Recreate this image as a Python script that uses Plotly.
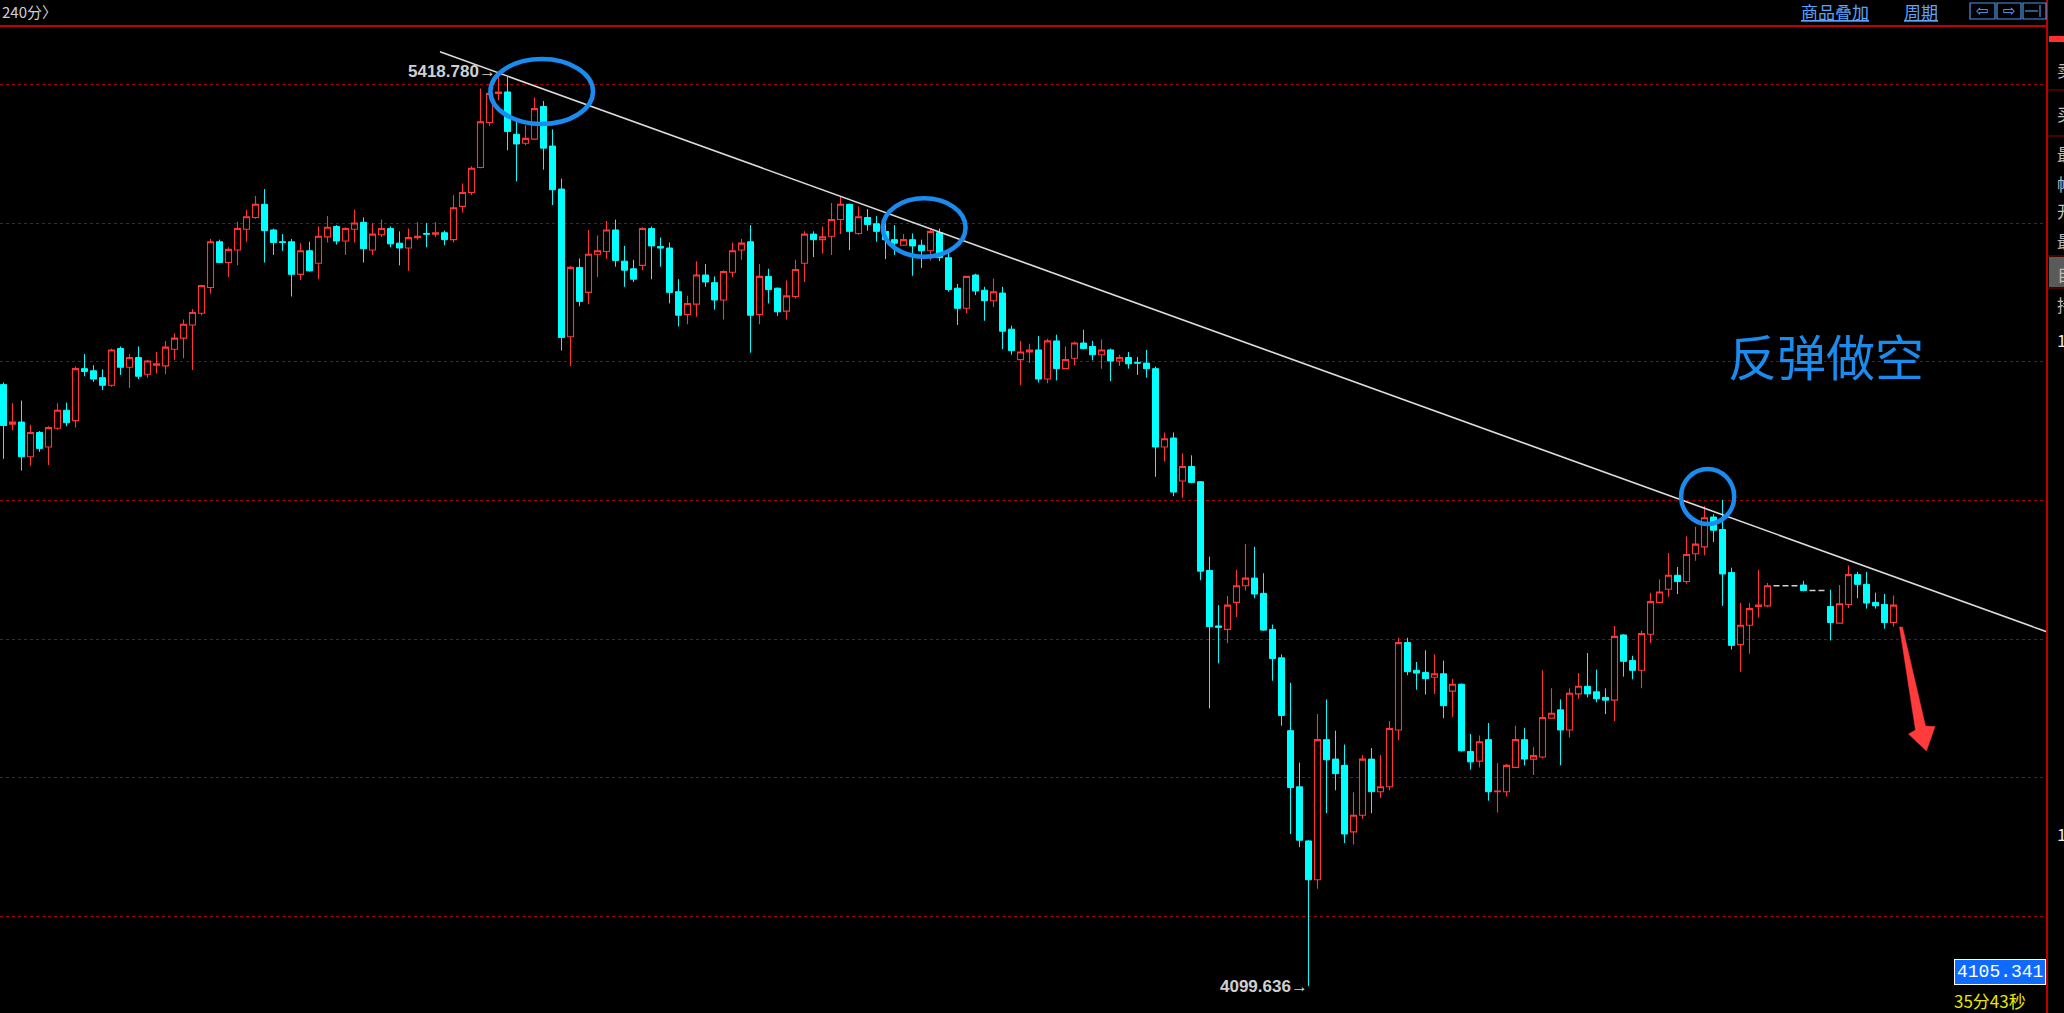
import plotly.graph_objects as go

W, H = 2064, 1013

# ---------------- data (240-minute candles) ----------------
opens = [4967, 4910, 4913, 4863, 4898, 4877, 4904, 4930, 4915, 4990,
         4987, 4977, 4966, 5019, 4992, 5006, 4982, 4995, 4994, 5018,
         5034, 5053, 5070, 5107, 5173, 5143, 5161, 5191, 5208, 5227,
         5190, 5173, 5173, 5126, 5160, 5142, 5180, 5195, 5174, 5191,
         5201, 5161, 5183, 5192, 5171, 5164, 5179, 5185, 5184, 5186,
         5176, 5224, 5244, 5280, 5345, 5387, 5389, 5328, 5315, 5321,
         5368, 5311, 5249, 5036, 5136, 5100, 5155, 5159, 5190, 5145,
         5134, 5139, 5192, 5166, 5164, 5101, 5068, 5083, 5125, 5114,
         5089, 5129, 5161, 5173, 5068, 5123, 5106, 5073, 5094, 5142,
         5184, 5176, 5181, 5205, 5227, 5185, 5208, 5199, 5188, 5176,
         5168, 5176, 5168, 5160, 5186, 5150, 5106, 5077, 5125, 5103,
         5088, 5099, 5047, 5003, 5014, 5017, 4975, 5030, 4990, 5005,
         5027, 5022, 5010, 5017, 5001, 5006, 4999, 4998, 4990, 4877,
         4890, 4828, 4849, 4827, 4699, 4619, 4614, 4653, 4677, 4688,
         4666, 4614, 4573, 4468, 4387, 4309, 4253, 4455, 4427, 4418,
         4322, 4346, 4427, 4380, 4387, 4469, 4595, 4555, 4552, 4545,
         4550, 4525, 4535, 4438, 4424, 4455, 4380, 4380, 4415, 4455,
         4427, 4430, 4486, 4498, 4469, 4521, 4532, 4524, 4516, 4512,
         4606, 4569, 4555, 4607, 4653, 4672, 4692, 4683, 4723, 4733,
         4776, 4758, 4696, 4592, 4620, 4647, 4648, 4677, 4677, 4677,
         4678, 4670, 4670, 4647, 4623, 4650, 4693, 4679, 4653, 4650,
         4624]
highs = [4970, 4940, 4944, 4909, 4900, 4907, 4940, 4941, 4993, 5011,
         4995, 4989, 5019, 5022, 5011, 5022, 5003, 5014, 5030, 5041,
         5061, 5076, 5111, 5177, 5176, 5165, 5202, 5219, 5239, 5249,
         5192, 5184, 5177, 5171, 5173, 5195, 5210, 5197, 5194, 5219,
         5208, 5200, 5205, 5195, 5188, 5192, 5201, 5200, 5201, 5189,
         5240, 5257, 5282, 5394, 5394, 5418.78, 5411, 5346, 5341, 5381,
         5376, 5335, 5264, 5138, 5149, 5190, 5182, 5203, 5205, 5167,
         5147, 5194, 5195, 5179, 5172, 5119, 5095, 5145, 5141, 5123,
         5132, 5172, 5177, 5197, 5141, 5134, 5107, 5117, 5147, 5188,
         5188, 5195, 5229, 5239, 5228, 5224, 5220, 5210, 5200, 5197,
         5184, 5185, 5176, 5190, 5192, 5159, 5112, 5124, 5127, 5108,
         5120, 5108, 5052, 5030, 5026, 5037, 5033, 5039, 5022, 5029,
         5046, 5030, 5032, 5019, 5010, 5014, 5007, 5017, 4993, 4898,
         4898, 4868, 4865, 4828, 4719, 4649, 4662, 4700, 4737, 4733,
         4695, 4621, 4578, 4537, 4422, 4310, 4492, 4513, 4468, 4448,
         4379, 4433, 4443, 4433, 4482, 4602, 4602, 4567, 4584, 4578,
         4569, 4543, 4536, 4463, 4461, 4479, 4421, 4420, 4475, 4472,
         4444, 4555, 4529, 4513, 4529, 4551, 4580, 4556, 4529, 4619,
         4607, 4576, 4612, 4667, 4686, 4724, 4704, 4748, 4762, 4792,
         4780, 4801, 4703, 4652, 4652, 4700, 4681, 4677, 4677, 4677,
         4684, 4670, 4670, 4671, 4678, 4706, 4697, 4697, 4667, 4665,
         4663]
lows = [4860, 4901, 4843, 4850, 4870, 4851, 4902, 4907, 4905, 4979,
        4971, 4959, 4964, 4981, 4962, 4975, 4977, 4983, 4982, 5003,
        5005, 4988, 5067, 5098, 5143, 5122, 5139, 5173, 5206, 5143,
        5154, 5160, 5094, 5118, 5130, 5119, 5172, 5169, 5154, 5172,
        5143, 5154, 5180, 5165, 5139, 5131, 5176, 5165, 5180, 5168,
        5172, 5215, 5240, 5279, 5340, 5377, 5305, 5260, 5312, 5320,
        5277, 5226, 5016, 4994, 5080, 5083, 5122, 5148, 5137, 5108,
        5115, 5132, 5119, 5137, 5084, 5051, 5054, 5065, 5108, 5075,
        5061, 5122, 5147, 5013, 5054, 5084, 5066, 5061, 5091, 5115,
        5151, 5156, 5154, 5184, 5161, 5183, 5189, 5173, 5148, 5154,
        5167, 5124, 5135, 5146, 5145, 5101, 5053, 5070, 5096, 5059,
        5079, 5018, 5010, 4966, 4998, 4970, 4969, 4973, 4989, 4995,
        5018, 5002, 4990, 4972, 4994, 4990, 4981, 4977, 4834, 4856,
        4806, 4804, 4825, 4685, 4500, 4565, 4594, 4632, 4670, 4659,
        4612, 4540, 4475, 4319, 4300, 4099.636, 4240, 4349, 4382, 4306,
        4304, 4341, 4349, 4371, 4382, 4454, 4548, 4527, 4520, 4521,
        4486, 4488, 4438, 4412, 4415, 4367, 4350, 4373, 4414, 4418,
        4404, 4428, 4485, 4418, 4458, 4514, 4516, 4509, 4492, 4482,
        4546, 4542, 4529, 4594, 4652, 4661, 4665, 4680, 4713, 4721,
        4740, 4648, 4585, 4553, 4579, 4631, 4646, 4677, 4677, 4677,
        4669, 4670, 4670, 4598, 4622, 4645, 4659, 4644, 4644, 4615,
        4618]
closes = [4908, 4913, 4863, 4898, 4875, 4905, 4930, 4912, 4990, 4986,
          4975, 4966, 5017, 4992, 5006, 4979, 5001, 4997, 5021, 5034,
          5054, 5071, 5110, 5173, 5143, 5162, 5192, 5209, 5227, 5189,
          5172, 5172, 5126, 5160, 5131, 5181, 5194, 5174, 5192, 5200,
          5163, 5184, 5192, 5170, 5164, 5179, 5181, 5184, 5186, 5176,
          5222, 5244, 5279, 5346, 5387, 5389, 5332, 5314, 5322, 5365,
          5308, 5248, 5035, 5136, 5087, 5155, 5160, 5190, 5146, 5132,
          5119, 5192, 5167, 5164, 5100, 5067, 5084, 5125, 5115, 5089,
          5130, 5160, 5171, 5067, 5123, 5104, 5072, 5095, 5133, 5184,
          5176, 5180, 5205, 5227, 5188, 5209, 5198, 5188, 5176, 5171,
          5176, 5167, 5160, 5188, 5150, 5104, 5077, 5123, 5102, 5088,
          5101, 5044, 5016, 5014, 5017, 4975, 5030, 4990, 5003, 5027,
          5019, 5010, 5017, 5001, 5006, 4997, 4998, 4990, 4877, 4889,
          4812, 4849, 4826, 4698, 4618, 4617, 4649, 4677, 4688, 4665,
          4613, 4572, 4490, 4386, 4310, 4253, 4455, 4426, 4406, 4319,
          4346, 4427, 4380, 4387, 4471, 4595, 4553, 4551, 4543, 4550,
          4504, 4535, 4439, 4423, 4452, 4380, 4381, 4418, 4455, 4427,
          4432, 4487, 4493, 4469, 4522, 4532, 4521, 4514, 4512, 4604,
          4568, 4555, 4608, 4654, 4668, 4692, 4683, 4722, 4737, 4775,
          4757, 4694, 4591, 4620, 4644, 4649, 4677, 4677, 4677, 4677,
          4670, 4670, 4670, 4624, 4651, 4693, 4679, 4652, 4648, 4624,
          4649]

grid_levels = [4200, 4400, 4600, 4800, 5000, 5200, 5400]

peak_index, peak_price, peak_text = 55, 5418.78, "5418.780"
trough_index, trough_price, trough_text = 145, 4099.636, "4099.636"

# hand-drawn downward trend line (bar index, price)
trend_x = [48.5, 227.5]
trend_y = [5447.0, 4608.3]

# hand-drawn blue ellipses (bar index / price extents)
ell_x0 = [54.1, 97.7, 186.4]
ell_x1 = [65.5, 106.9, 192.3]
ell_y0 = [5342.8, 5151.4, 4766.0]
ell_y1 = [5436.5, 5235.7, 4845.3]

note_text = "反弹做空"
price_box_text = "4105.341"
timer_text = "35分43秒"
period_text = "240分〉"
top_links = ["商品叠加", "周期"]
side_labels = ["卖出", "买入", "最新", "幅度", "开盘", "最低", "自选", "持仓", "1", "1"]

# ---------------- styling ----------------
RED = "#ff3535"
CYAN = "#00ffff"
BLUE = "#1a8cf0"
GRID = "#a00000"
BORDER = "#c00000"

PLOT_RIGHT = 2047
PLOT_TOP = 27
BAR0 = 3.5      # pixel centre of first bar
BAR_STEP = 9.0  # pixels per bar


def px(x):
    return x / W


def py(y):
    return 1 - y / H


x_idx = list(range(len(opens)))
flat = [o == h == l == c for o, h, l, c in zip(opens, highs, lows, closes)]

main_x = [i for i in x_idx if not flat[i]]
flat_x = [i for i in x_idx if flat[i]]

fig = go.Figure()

fig.add_trace(go.Candlestick(
    x=main_x,
    open=[opens[i] for i in main_x],
    high=[highs[i] for i in main_x],
    low=[lows[i] for i in main_x],
    close=[closes[i] for i in main_x],
    increasing=dict(line=dict(color=RED, width=1.1), fillcolor="#000000"),
    decreasing=dict(line=dict(color=CYAN, width=1), fillcolor=CYAN),
    whiskerwidth=0,
    hoverinfo="skip",
    showlegend=False,
))

fig.add_trace(go.Candlestick(
    x=flat_x,
    open=[opens[i] for i in flat_x],
    high=[highs[i] for i in flat_x],
    low=[lows[i] for i in flat_x],
    close=[closes[i] for i in flat_x],
    increasing=dict(line=dict(color="#d0d0d0", width=1.5), fillcolor="#d0d0d0"),
    decreasing=dict(line=dict(color="#d0d0d0", width=1.5), fillcolor="#d0d0d0"),
    whiskerwidth=0,
    hoverinfo="skip",
    showlegend=False,
))

fig.add_trace(go.Scatter(
    x=trend_x, y=trend_y, mode="lines",
    line=dict(color="#dcdcdc", width=1.6),
    hoverinfo="skip", showlegend=False,
))

x_lo = (0 - BAR0) / BAR_STEP
x_hi = (PLOT_RIGHT - BAR0) / BAR_STEP
# y mapping: price = 5521.6 - 1.442*pixel_y
y_lo = 5521.6 - 1.442 * H
y_hi = 5521.6 - 1.442 * PLOT_TOP

shapes = []
for a, b, c, d in zip(ell_x0, ell_x1, ell_y0, ell_y1):
    shapes.append(dict(type="circle", xref="x", yref="y", x0=a, x1=b, y0=c, y1=d,
                       line=dict(color=BLUE, width=4.5), layer="above"))

# red tapered arrow (pixel outline converted to paper units)
arrow_pts = [(1899.5, 627.0), (1902.5, 627.0), (1925.5, 726.0), (1935.0, 726.5),
             (1926.5, 751.0), (1908.5, 734.0), (1915.5, 730.0)]
arrow_path = "M " + " L ".join(f"{px(a):.5f},{py(b):.5f}" for a, b in arrow_pts) + " Z"
shapes.append(dict(type="path", xref="paper", yref="paper", path=arrow_path,
                   fillcolor="#ff3b3b", line=dict(color="#ff3b3b", width=0.5)))

# frame lines
shapes.append(dict(type="line", xref="paper", yref="paper", x0=0, x1=px(PLOT_RIGHT),
                   y0=py(26), y1=py(26), line=dict(color=BORDER, width=2)))
shapes.append(dict(type="line", xref="paper", yref="paper", x0=px(PLOT_RIGHT), x1=px(PLOT_RIGHT),
                   y0=0, y1=1, line=dict(color=BORDER, width=2)))
# right panel decorations
shapes.append(dict(type="rect", xref="paper", yref="paper", x0=px(2049), x1=1,
                   y0=py(42), y1=py(36), fillcolor="#ff3030", line=dict(width=0)))
for yy in [90, 136, 256, 288]:
    shapes.append(dict(type="line", xref="paper", yref="paper", x0=px(2048), x1=1,
                       y0=py(yy), y1=py(yy), line=dict(color="#8a0000", width=1)))
shapes.append(dict(type="rect", xref="paper", yref="paper", x0=px(2049), x1=1,
                   y0=py(287), y1=py(257), fillcolor="#5a5a5a", line=dict(width=0), layer="below"))
# top-right icon buttons
for x0, x1 in [(1970, 1995), (1997, 2021), (2023, 2046)]:
    shapes.append(dict(type="rect", xref="paper", yref="paper", x0=px(x0), x1=px(x1),
                       y0=py(19), y1=py(3), line=dict(color="#4d94e6", width=1.2)))
shapes.append(dict(type="line", xref="paper", yref="paper", x0=px(2025), x1=px(2038),
                   y0=py(11), y1=py(11), line=dict(color="#4d94e6", width=1.2)))
shapes.append(dict(type="line", xref="paper", yref="paper", x0=px(2040), x1=px(2040),
                   y0=py(5), y1=py(17), line=dict(color="#4d94e6", width=1.2)))

annotations = []
annotations.append(dict(x=peak_index, y=peak_price, xref="x", yref="y",
                        text="<b>" + peak_text + "</b>→", showarrow=False,
                        xanchor="right", yanchor="middle", xshift=-1,
                        font=dict(family="Liberation Sans", size=17, color="#cfcfcf")))
annotations.append(dict(x=trough_index, y=trough_price, xref="x", yref="y",
                        text="<b>" + trough_text + "</b>→", showarrow=False,
                        xanchor="right", yanchor="middle", xshift=1,
                        font=dict(family="Liberation Sans", size=17, color="#cfcfcf")))
annotations.append(dict(x=px(1826), y=py(354), xref="paper", yref="paper",
                        text=note_text, showarrow=False, xanchor="center", yanchor="middle",
                        font=dict(family="Noto Sans CJK SC", size=49, color=BLUE)))
# price box and timer
annotations.append(dict(x=px(2046), y=py(972), xref="paper", yref="paper",
                        text=price_box_text, showarrow=False, xanchor="right", yanchor="middle",
                        bgcolor="#0f6bff", bordercolor="#ffffff", borderwidth=1, borderpad=2,
                        font=dict(family="Liberation Mono", size=18, color="#ffffff")))
annotations.append(dict(x=px(1952), y=py(1000), xref="paper", yref="paper",
                        text=timer_text, showarrow=False, xanchor="left", yanchor="middle",
                        font=dict(family="Noto Sans CJK SC", size=17, color="#e8e800")))
# top bar
annotations.append(dict(x=0, y=py(12), xref="paper", yref="paper",
                        text=period_text, showarrow=False, xanchor="left", yanchor="middle",
                        font=dict(family="Noto Sans CJK SC", size=15, color="#d0d0d0")))
annotations.append(dict(x=px(1799), y=py(11), xref="paper", yref="paper",
                        text="<u>" + top_links[0] + "</u>", showarrow=False, xanchor="left",
                        yanchor="middle",
                        font=dict(family="Noto Sans CJK SC", size=17, color="#5aa6ff")))
annotations.append(dict(x=px(1902), y=py(11), xref="paper", yref="paper",
                        text="<u>" + top_links[1] + "</u>", showarrow=False, xanchor="left",
                        yanchor="middle",
                        font=dict(family="Noto Sans CJK SC", size=17, color="#5aa6ff")))
for xc, sym in [(1982.5, "⇦"), (2009, "⇨")]:
    annotations.append(dict(x=px(xc), y=py(11), xref="paper", yref="paper",
                            text=sym, showarrow=False, xanchor="center", yanchor="middle",
                            font=dict(family="DejaVu Sans", size=15, color="#5aa6ff")))
# right side panel (mostly clipped by the window edge, as in the reference)
for lab, yy in zip(side_labels, [70, 113, 153, 183, 211, 240, 273, 304, 339, 833]):
    annotations.append(dict(x=px(2055), y=py(yy), xref="paper", yref="paper",
                            text=lab, showarrow=False, xanchor="left", yanchor="middle",
                            font=dict(family="Noto Sans CJK SC", size=17,
                                      color="#e8e8e8" if lab == "1" else "#bdbdbd")))

fig.update_layout(
    width=W, height=H,
    margin=dict(l=0, r=0, t=0, b=0, pad=0),
    paper_bgcolor="#000000",
    plot_bgcolor="#000000",
    showlegend=False,
    boxgap=1/3, boxgroupgap=0,
    xaxis=dict(domain=[0, px(PLOT_RIGHT)], range=[x_lo, x_hi],
               showgrid=False, zeroline=False, showticklabels=False, ticks="",
               rangeslider=dict(visible=False), fixedrange=True, showline=False),
    yaxis=dict(domain=[0, py(PLOT_TOP)], range=[y_lo, y_hi],
               tickvals=grid_levels, showgrid=True, gridcolor=GRID, griddash="dot",
               gridwidth=1, zeroline=False, showticklabels=False, ticks="",
               fixedrange=True, showline=False),
    shapes=shapes,
    annotations=annotations,
)

fig.write_html("out.html", config={"displayModeBar": False},
               post_script="document.body.style.margin='0';document.body.style.overflow='hidden';")
